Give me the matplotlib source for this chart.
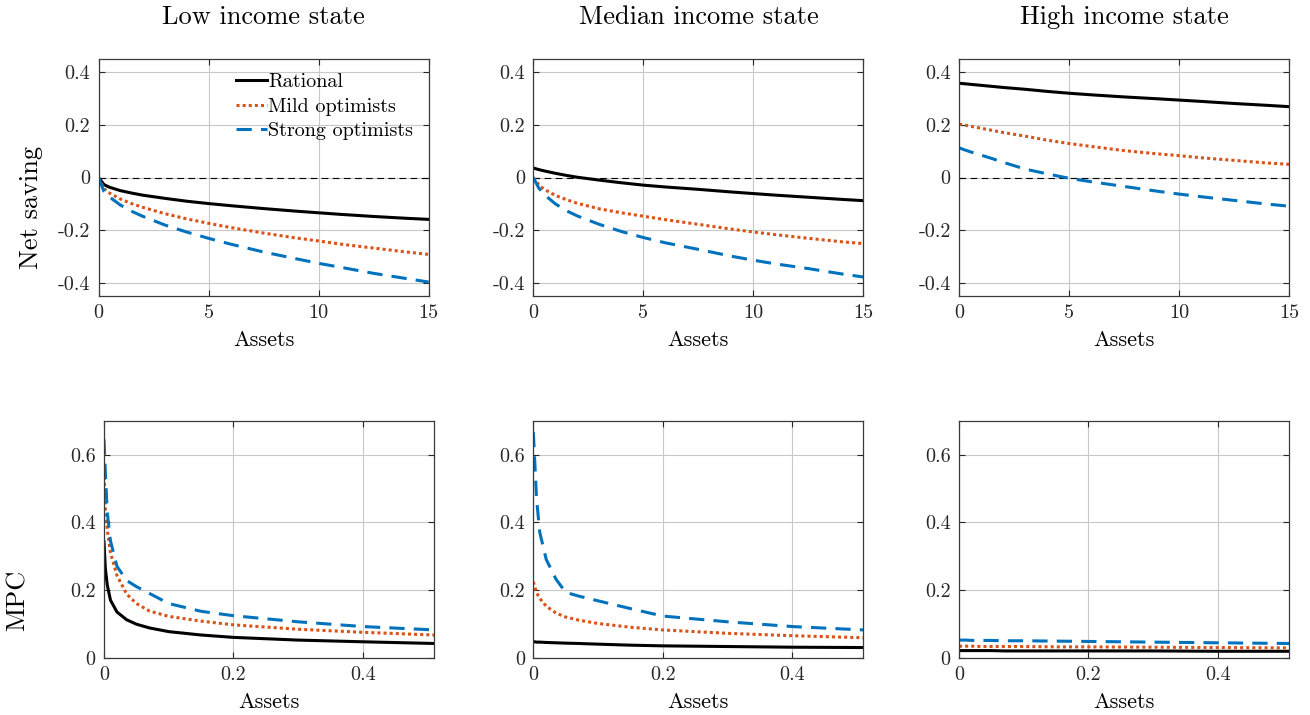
import matplotlib
matplotlib.use('Agg')
import matplotlib.pyplot as plt

plt.rcParams['font.family'] = 'cmr10'
plt.rcParams['axes.unicode_minus'] = False
plt.rcParams['mathtext.fontset'] = 'cm'

states = ['Low income state', 'Median income state', 'High income state']
series_names = ['Rational', 'Mild optimists', 'Strong optimists']

# Net saving vs assets (top row)
assets_top = [0, 0.25, 0.5, 1, 1.5, 2, 3, 4, 5, 6, 7.5, 9, 10, 11, 12.5, 14, 15]

sav_low_rational = [0, -0.027, -0.037, -0.050, -0.059, -0.067, -0.079, -0.090, -0.099, -0.107,
                    -0.118, -0.128, -0.134, -0.140, -0.148, -0.155, -0.159]
sav_low_mild = [0, -0.042, -0.059, -0.082, -0.099, -0.113, -0.137, -0.157, -0.174, -0.190,
                -0.211, -0.230, -0.241, -0.253, -0.268, -0.283, -0.292]
sav_low_strong = [0, -0.053, -0.074, -0.105, -0.128, -0.147, -0.180, -0.207, -0.231, -0.253,
                  -0.283, -0.309, -0.326, -0.341, -0.364, -0.384, -0.397]

sav_med_rational = [0.036, 0.030, 0.025, 0.016, 0.008, 0.001, -0.010, -0.020, -0.029, -0.036,
                    -0.045, -0.055, -0.061, -0.067, -0.075, -0.083, -0.088]
sav_med_mild = [0, -0.028, -0.045, -0.068, -0.084, -0.098, -0.119, -0.134, -0.147, -0.160,
                -0.178, -0.196, -0.207, -0.217, -0.231, -0.244, -0.251]
sav_med_strong = [0, -0.040, -0.065, -0.100, -0.126, -0.146, -0.178, -0.205, -0.228, -0.248,
                  -0.273, -0.299, -0.314, -0.328, -0.346, -0.366, -0.378]

sav_high_rational = [0.358, 0.356, 0.354, 0.350, 0.346, 0.342, 0.335, 0.327, 0.320, 0.314,
                     0.306, 0.299, 0.294, 0.289, 0.281, 0.274, 0.269]
sav_high_mild = [0.203, 0.199, 0.195, 0.187, 0.179, 0.171, 0.157, 0.142, 0.129, 0.118,
                 0.102, 0.090, 0.083, 0.075, 0.065, 0.055, 0.050]
sav_high_strong = [0.113, 0.105, 0.098, 0.085, 0.072, 0.058, 0.032, 0.014, -0.003, -0.016,
                   -0.034, -0.052, -0.063, -0.073, -0.087, -0.101, -0.109]

# MPC vs assets (bottom row)
assets_mpc = [0, 0.002, 0.005, 0.01, 0.02, 0.035, 0.05, 0.07, 0.1, 0.15, 0.2, 0.3, 0.4, 0.51]

mpc_low_rational = [0.342, 0.265, 0.215, 0.170, 0.135, 0.112, 0.099, 0.088, 0.077, 0.067,
                    0.060, 0.052, 0.047, 0.042]
mpc_low_mild = [0.552, 0.445, 0.380, 0.310, 0.243, 0.188, 0.160, 0.138, 0.122, 0.108,
                0.097, 0.084, 0.075, 0.067]
mpc_low_strong = [0.645, 0.550, 0.430, 0.345, 0.270, 0.228, 0.210, 0.190, 0.160, 0.137,
                  0.124, 0.106, 0.092, 0.082]

mpc_med_rational = [0.047, 0.047, 0.046, 0.046, 0.045, 0.044, 0.043, 0.042, 0.040, 0.037,
                    0.035, 0.033, 0.031, 0.030]
mpc_med_mild = [0.224, 0.212, 0.192, 0.175, 0.152, 0.132, 0.120, 0.111, 0.101, 0.090,
                0.082, 0.072, 0.065, 0.059]
mpc_med_strong = [0.667, 0.590, 0.470, 0.370, 0.290, 0.232, 0.193, 0.182, 0.168, 0.145,
                  0.123, 0.106, 0.092, 0.082]

mpc_high_rational = [0.021, 0.021, 0.021, 0.021, 0.021, 0.021, 0.021, 0.020, 0.020, 0.020,
                     0.020, 0.020, 0.019, 0.019]
mpc_high_mild = [0.034, 0.034, 0.034, 0.034, 0.034, 0.033, 0.033, 0.033, 0.033, 0.032,
                 0.032, 0.031, 0.030, 0.029]
mpc_high_strong = [0.052, 0.052, 0.052, 0.052, 0.051, 0.051, 0.051, 0.050, 0.050, 0.049,
                   0.048, 0.046, 0.044, 0.042]

saving_curves = [
    [sav_low_rational, sav_low_mild, sav_low_strong],
    [sav_med_rational, sav_med_mild, sav_med_strong],
    [sav_high_rational, sav_high_mild, sav_high_strong],
]
mpc_curves = [
    [mpc_low_rational, mpc_low_mild, mpc_low_strong],
    [mpc_med_rational, mpc_med_mild, mpc_med_strong],
    [mpc_high_rational, mpc_high_mild, mpc_high_strong],
]

colors = ['black', '#D95319', '#0072BD']
styles = ['-', (0, (1, 1)), (0, (5, 3))]
widths = [2.2, 2.2, 2.2]

W, H = 1310, 715
fig = plt.figure(figsize=(W / 100, H / 100), dpi=100)

top_lefts = [98.5, 533.3, 959]
bot_lefts = [104, 533.3, 959]
ax_w = 330.2


def style_axes(ax):
    ax.grid(True, color='#c8c8c8', linewidth=0.8)
    ax.set_axisbelow(True)
    ax.tick_params(direction='in', top=True, right=True, length=4, width=0.8,
                   labelsize=14.5, colors='#262626', pad=6)
    for sp in ax.spines.values():
        sp.set_color('#3a3a3a')
        sp.set_linewidth(0.9)


for j in range(3):
    # Top row: net saving
    ax = fig.add_axes([top_lefts[j] / W, (H - 296) / H, ax_w / W, 237 / H])
    ax.axhline(0, color='black', linewidth=0.8, linestyle=(0, (6, 4)))
    for k in range(3):
        ax.plot(assets_top, saving_curves[j][k], color=colors[k], linestyle=styles[k],
                linewidth=widths[k], label=series_names[k])
    ax.set_xlim(0, 15)
    ax.set_ylim(-0.45, 0.45)
    ax.set_xticks([0, 5, 10, 15])
    ax.set_xticklabels(['0', '5', '10', '15'])
    ax.set_yticks([-0.4, -0.2, 0, 0.2, 0.4])
    ax.set_yticklabels(['-0.4', '-0.2', '0', '0.2', '0.4'])
    style_axes(ax)
    ax.set_title(states[j], fontsize=19, pad=25)
    ax.set_xlabel('Assets', fontsize=16, labelpad=6)
    if j == 0:
        ax.set_ylabel('Net saving', fontsize=19)
        ax.yaxis.set_label_coords(-0.168, 0.373)
        ax.legend(loc='upper left', bbox_to_anchor=(0.416, 0.94), frameon=False,
                  fontsize=14.5, handlelength=1.55, handletextpad=0.05,
                  labelspacing=0.32, borderpad=0, borderaxespad=0)

    # Bottom row: MPC
    ax = fig.add_axes([bot_lefts[j] / W, (H - 657.7) / H, ax_w / W, 237 / H])
    for k in range(3):
        ax.plot(assets_mpc, mpc_curves[j][k], color=colors[k], linestyle=styles[k],
                linewidth=widths[k])
    ax.set_xlim(0, 0.51)
    ax.set_ylim(0, 0.7)
    ax.set_xticks([0, 0.2, 0.4])
    ax.set_xticklabels(['0', '0.2', '0.4'])
    ax.set_yticks([0, 0.2, 0.4, 0.6])
    ax.set_yticklabels(['0', '0.2', '0.4', '0.6'])
    style_axes(ax)
    ax.set_xlabel('Assets', fontsize=16, labelpad=6)
    if j == 0:
        ax.set_ylabel('MPC', fontsize=19)
        ax.yaxis.set_label_coords(-0.224, 0.243)

fig.savefig('out.png', dpi=100, facecolor='white')
